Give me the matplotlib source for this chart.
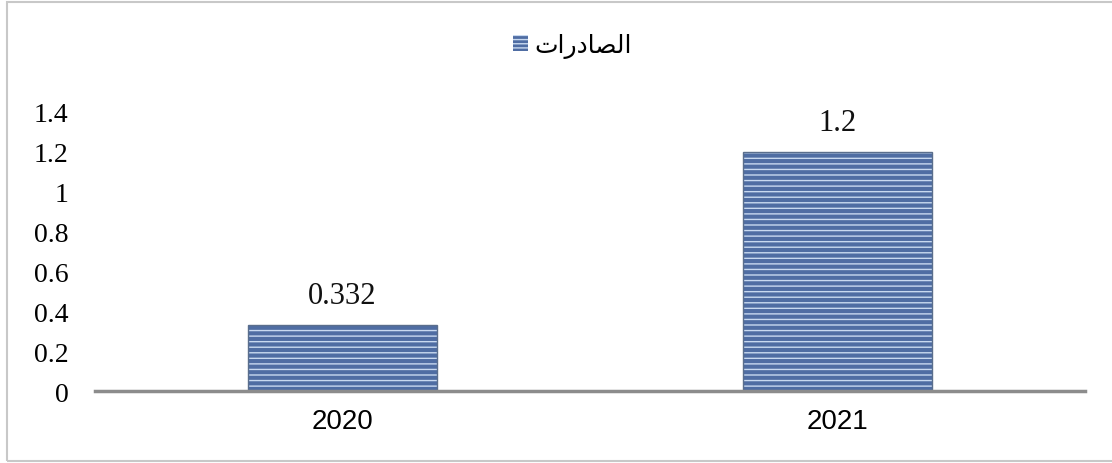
import matplotlib.pyplot as plt
from matplotlib.patches import Rectangle, Patch

# data
years = ["2020", "2021"]
exports = [0.332, 1.2]
value_labels = ["0.332", "1.2"]
y_ticks = [0, 0.2, 0.4, 0.6, 0.8, 1.0, 1.2, 1.4]
y_tick_labels = ["0", "0.2", "0.4", "0.6", "0.8", "1", "1.2", "1.4"]
# "الصادرات" written with shaped presentation forms, in visual order
series_name = "\ufe95\ufe8d\ufead\ufea9\ufe8e\ufebc\ufedf\ufe8d"

bar_dark = "#4f6da3"
stripe_light = "#c8d9f0"

fig = plt.figure(figsize=(11.12, 4.64), dpi=100)
ax = fig.add_axes([0.0854, 0.155, 0.8903, 0.6015])

x = range(len(years))
# striped fill
ax.bar(x, exports, width=0.38, color=bar_dark, edgecolor=stripe_light,
       hatch="---", linewidth=0, zorder=2)
# outline
ax.bar(x, exports, width=0.38, fill=False, edgecolor="#5a6e8c",
       linewidth=1.0, zorder=3)

for xi, v, lab in zip(x, exports, value_labels):
    ax.annotate(lab, (xi, v), xytext=(0, 11), textcoords="offset points",
                ha="center", va="bottom", fontsize=22,
                family="Liberation Serif", color="#111111")

ax.set_xlim(-0.5, 1.5)
ax.set_ylim(0, 1.4)
ax.set_yticks(y_ticks)
ax.set_yticklabels(y_tick_labels, family="Liberation Serif", fontsize=20)
ax.set_xticks(list(x))
ax.set_xticklabels(years, family="Liberation Sans", fontsize=20)
ax.tick_params(axis="y", length=0, pad=19)
ax.tick_params(axis="x", length=0, pad=12)

for s in ["top", "right", "left"]:
    ax.spines[s].set_visible(False)
ax.spines["bottom"].set_color("#8c8c8c")
ax.spines["bottom"].set_linewidth(2.5)
ax.spines["bottom"].set_zorder(4)

handle = Patch(facecolor=bar_dark, edgecolor=stripe_light, hatch="----", linewidth=0)
fig.legend([handle], [series_name], loc="center", bbox_to_anchor=(0.515, 0.9),
           frameon=False, prop={"family": "DejaVu Sans", "size": 18},
           handlelength=0.6, handleheight=0.6, handletextpad=0.25)

# outer frame of the chart area
fig.patches.append(Rectangle((7 / 1112, 2 / 464), 1110 / 1112, 459 / 464,
                             transform=fig.transFigure, fill=False,
                             edgecolor="#c8c8c8", linewidth=1.5))

fig.savefig("out.png", dpi=100)
